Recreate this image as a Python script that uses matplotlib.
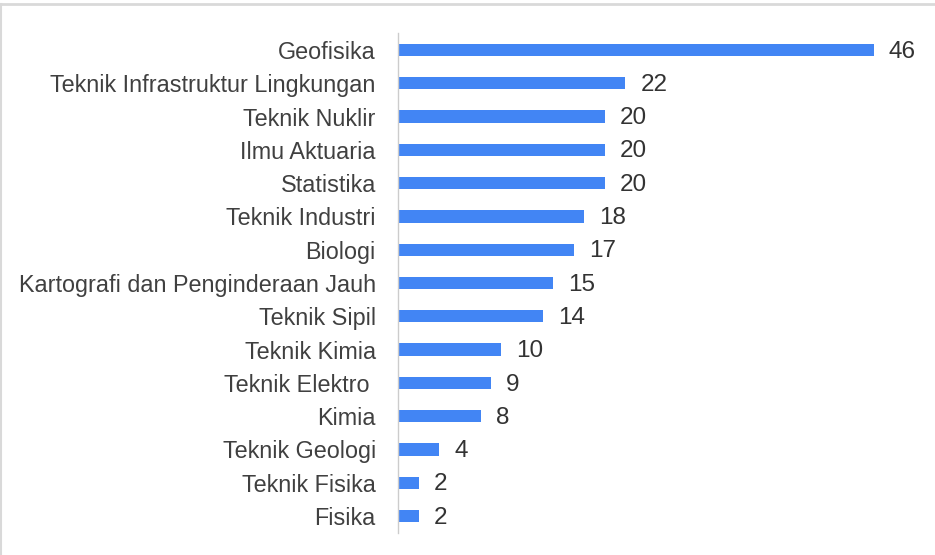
import matplotlib
matplotlib.use('Agg')
import matplotlib.pyplot as plt
from matplotlib.lines import Line2D

jurusan = ['Geofisika', 'Teknik Infrastruktur Lingkungan', 'Teknik Nuklir',
           'Ilmu Aktuaria', 'Statistika', 'Teknik Industri', 'Biologi',
           'Kartografi dan Penginderaan Jauh', 'Teknik Sipil', 'Teknik Kimia',
           'Teknik Elektro ', 'Kimia', 'Teknik Geologi', 'Teknik Fisika', 'Fisika']
jumlah = [46, 22, 20, 20, 20, 18, 17, 15, 14, 10, 9, 8, 4, 2, 2]

plt.rcParams['font.family'] = ['Liberation Sans', 'DejaVu Sans']

fig = plt.figure(figsize=(9.35, 5.55), dpi=100)
ax = fig.add_axes([398 / 935, 1 - 532.7 / 555, 517 / 935, (532.7 - 33.3) / 555])

y = list(range(len(jurusan)))
ax.barh(y, jumlah, height=0.37, color='#4285f4')
for yi, v in zip(y, jumlah):
    ax.text(v + 1.45, yi + 0.05, str(v), va='center', ha='left', fontsize=17.5, color='#333333')

ax.set_ylim(len(jurusan) - 0.5, -0.5)
ax.set_xlim(0, 50)
ax.set_yticks(y)
ax.set_yticklabels(jurusan, fontsize=16.8, color='#404040')
ax.tick_params(axis='y', length=0, pad=16)
ax.set_xticks([])
for s in ['top', 'right', 'bottom']:
    ax.spines[s].set_visible(False)
ax.spines['left'].set_color('#cccccc')
ax.spines['left'].set_linewidth(1)

# frame lines of the original screenshot
fig.add_artist(Line2D([0, 1], [1 - 4 / 555, 1 - 4 / 555], transform=fig.transFigure,
                      color='#d9d9d9', linewidth=2))
fig.add_artist(Line2D([1 / 935, 1 / 935], [0, 1 - 4 / 555], transform=fig.transFigure,
                      color='#d9d9d9', linewidth=1.5))

fig.savefig('out.png', dpi=100)
